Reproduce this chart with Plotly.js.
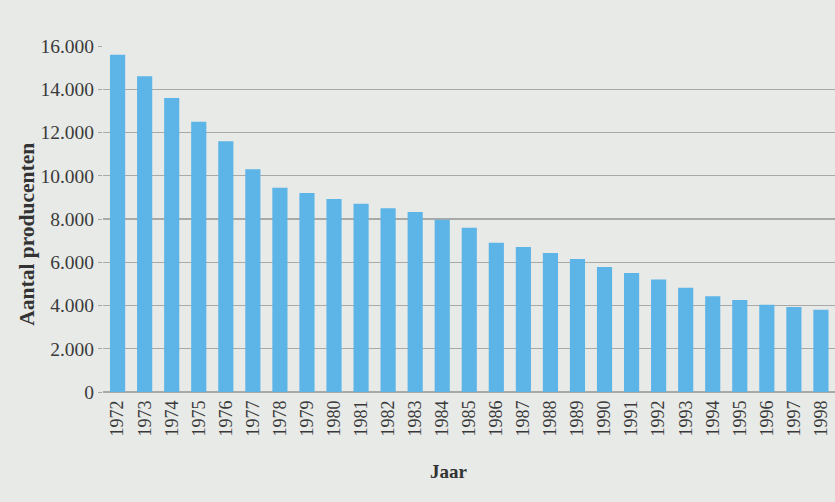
<!DOCTYPE html>
<html>
<head>
<meta charset="utf-8">
<script src="https://cdn.plot.ly/plotly-3.0.1.min.js"></script>
<style>
  html, body { margin: 0; padding: 0; background: #e8eae8; }
  #chart { width: 835px; height: 502px; }
</style>
</head>
<body>
<div id="chart"></div>
<script>
const years = ["1972","1973","1974","1975","1976","1977","1978","1979","1980","1981","1982","1983","1984","1985","1986","1987","1988","1989","1990","1991","1992","1993","1994","1995","1996","1997","1998"];
const producers = [15600,14600,13600,12500,11600,10300,9450,9200,8930,8700,8500,8320,7960,7590,6900,6700,6430,6150,5780,5500,5200,4820,4430,4250,4040,3930,3800];
const yTicks = [0,2000,4000,6000,8000,10000,12000,14000,16000];
const xTitle = 'Jaar';
const yTitle = 'Aantal producenten';

const trace = {
  type: 'bar',
  x: years,
  y: producers,
  marker: { color: '#5db4e7' },
  hoverinfo: 'x+y'
};

const layout = {
  width: 835,
  height: 502,
  paper_bgcolor: '#e8eae8',
  plot_bgcolor: '#e8eae8',
  separators: ',.',
  margin: { l: 103, r: 0, t: 46, b: 110 },
  bargap: 0.44,
  showlegend: false,
  font: { family: '"Liberation Serif", "DejaVu Serif", serif', color: '#3a3a3a' },
  xaxis: {
    type: 'category',
    range: [-0.54, 26.52],
    tickangle: -90,
    tickfont: { size: 18, color: '#3a3a3a' },
    ticklabelstandoff: 4,
    showgrid: false,
    showline: false,
    ticks: ''
  },
  yaxis: {
    range: [0, 16000],
    tickvals: yTicks,
    tickformat: ',d',
    tickfont: { size: 19.5, color: '#3a3a3a' },
    showgrid: true,
    gridcolor: '#a8aaa8',
    gridwidth: 1.2,
    zeroline: true,
    zerolinecolor: '#a8aaa8',
    zerolinewidth: 1.2,
    ticks: 'outside',
    ticklen: 4,
    tickcolor: '#a8aaa8'
  },
  annotations: [
    {
      text: xTitle, xref: 'paper', yref: 'paper',
      x: 0.473, y: -0.231, xanchor: 'center', yanchor: 'middle',
      showarrow: false,
      font: { size: 19, color: '#333', weight: 'bold' }
    },
    {
      text: yTitle, xref: 'paper', yref: 'paper',
      x: -0.104, y: 0.457, xanchor: 'center', yanchor: 'middle',
      textangle: -90, showarrow: false,
      font: { size: 21.5, color: '#333', weight: 'bold' }
    }
  ]
};

Plotly.newPlot('chart', [trace], layout, { displayModeBar: false, staticPlot: true });
</script>
</body>
</html>
